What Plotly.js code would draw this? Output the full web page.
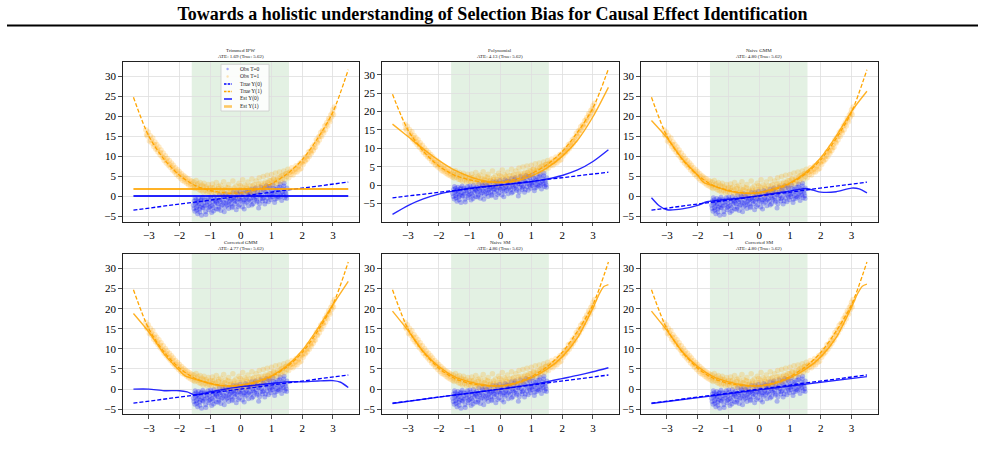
<!DOCTYPE html>
<html><head><meta charset="utf-8">
<script src="https://cdn.plot.ly/plotly-3.0.1.min.js"></script>
<style>html,body{margin:0;padding:0;background:#fff}#chart{width:985px;height:449px}</style>
</head><body><div id="chart"></div>
<script>
// ---------------- DATA ----------------
const methods = ["Trimmed IPW", "Polynomial", "Naive GMM", "Corrected GMM", "Naive SM", "Corrected SM"];
const ateEst = ["1.69", "4.13", "4.80", "4.77", "4.86", "4.80"];
const ateTrue = "5.62";

// observed T=0 (blue)
const obs0X = [-1.55,-1.52,-1.50,-1.48,-1.46,-1.45,-1.43,-1.41,-1.40,-1.38,-1.36,-1.35,-1.32,-1.30,-1.28,-1.26,-1.24,-1.22,-1.20,-1.17,-1.15,-1.12,-1.10,-1.07,-1.05,-1.02,-1.00,-0.97,-0.95,-0.92,-0.90,-0.87,-0.85,-0.82,-0.80,-0.77,-0.75,-0.72,-0.70,-0.67,-0.65,-0.62,-0.60,-0.57,-0.55,-0.52,-0.50,-0.47,-0.45,-0.42,-0.40,-0.37,-0.35,-0.32,-0.30,-0.27,-0.25,-0.22,-0.20,-0.17,-0.15,-0.12,-0.10,-0.07,-0.05,-0.02,0.00,0.03,0.05,0.08,0.10,0.13,0.15,0.18,0.20,0.23,0.25,0.28,0.30,0.33,0.35,0.38,0.40,0.43,0.45,0.48,0.50,0.53,0.55,0.58,0.60,0.63,0.65,0.68,0.70,0.73,0.75,0.78,0.80,0.83,0.85,0.88,0.90,0.93,0.95,0.98,1.00,1.03,1.05,1.08,1.10,1.13,1.15,1.18,1.20,1.23,1.25,1.28,1.30,1.33,1.35,1.38,1.40,1.43,1.45,1.48,1.50,
  -1.53,-1.49,-1.44,-1.39,-1.34,-1.29,-1.25,-1.19,-1.14,-1.09,-1.04,-0.99,-0.94,-0.89,-0.84,-0.79,-0.74,-0.69,-0.64,-0.59,-0.54,-0.49,-0.44,-0.39,-0.34,-0.29,-0.24,-0.19,-0.14,-0.09,-0.04,0.01,0.06,0.11,0.16,0.21,0.26,0.31,0.36,0.41,0.46,0.51,0.56,0.61,0.66,0.71,0.76,0.81,0.86,0.91,0.96,1.01,1.06,1.11,1.16,1.21,1.26,1.31,1.36,1.41,1.46,1.49];
const obs0Y = [-2.3,-1.2,-3.8,-2.0,-0.9,-2.9,-1.6,-4.4,-2.4,-0.6,-1.9,-3.3,-2.7,-1.1,-4.8,-2.1,-0.3,-3.0,-1.7,-2.5,-3.9,-1.0,-2.2,-0.4,-3.4,-1.8,-2.6,-0.8,-4.1,-1.5,-2.9,-0.1,-2.0,-1.2,-3.2,-0.6,-1.9,-2.7,0.3,-1.4,-3.6,-0.9,-2.1,-0.2,-1.6,-2.8,0.6,-1.1,-2.3,-0.5,-3.1,-1.3,0.2,-1.9,-0.7,-2.6,0.9,-1.0,-2.0,-0.3,-3.4,-1.4,0.5,-0.8,-2.2,1.2,-1.1,-0.2,-2.7,0.7,-0.9,-1.8,1.4,-0.4,-1.5,0.3,-2.4,1.0,-0.6,-1.3,1.8,0.0,-1.9,0.8,-0.8,2.0,-0.2,-1.5,1.1,-3.0,0.4,-0.7,2.3,0.1,-1.2,1.5,-0.3,-2.0,0.9,2.6,-0.5,1.3,-1.4,0.2,2.0,-0.9,1.0,-0.1,2.8,0.6,-1.6,1.7,0.2,-0.6,2.2,1.0,-0.3,3.0,0.7,-1.1,1.9,0.3,2.5,-0.4,1.3,0.1,2.0,
  -3.1,-0.4,-3.5,-1.3,-4.0,-0.8,-2.9,-0.9,-4.6,-1.5,-2.9,-0.2,-2.4,-3.7,-0.9,-1.6,-3.3,-1.0,-2.4,0.1,-3.9,-1.7,-0.1,-2.1,-1.0,-2.9,-0.5,-1.3,0.9,-2.6,-0.6,0.4,-1.5,-3.2,-0.7,1.1,-1.0,0.6,-2.2,-0.4,1.5,-1.1,0.3,-1.9,1.0,-0.6,2.0,-1.2,0.5,2.4,-0.3,0.4,1.9,-0.8,1.2,-0.1,2.3,0.0,1.1,3.2,0.7,-0.6];

// observed T=1 (orange)
const obs1X = [-3.10,-3.05,-3.02,-2.98,-2.95,-2.90,-2.87,-2.84,-2.80,-2.77,-2.74,-2.70,-2.67,-2.63,-2.60,-2.56,-2.53,-2.50,-2.46,-2.43,-2.40,-2.36,-2.33,-2.30,-2.26,-2.23,-2.20,-2.16,-2.13,-2.10,-2.06,-2.03,-2.00,-1.96,-1.93,-1.90,-1.86,-1.83,-1.80,-1.76,-1.73,-1.70,-1.66,-1.63,-1.60,-1.56,-1.53,-1.50,-1.46,-1.43,-1.40,-1.36,-1.33,-1.30,-1.26,-1.23,-1.20,-1.16,-1.13,-1.10,-1.06,-1.03,-1.00,-0.96,-0.93,-0.90,-0.86,-0.83,-0.80,-0.76,-0.73,-0.70,-0.66,-0.63,-0.60,-0.56,-0.53,-0.50,-0.46,-0.43,-0.40,-0.36,-0.33,-0.30,-0.26,-0.23,-0.20,-0.16,-0.13,-0.10,-0.06,-0.03,0.00,0.03,0.06,0.10,0.13,0.16,0.20,0.23,0.26,0.30,0.33,0.36,0.40,0.43,0.46,0.50,0.53,0.56,0.60,0.63,0.66,0.70,0.73,0.76,0.80,0.83,0.86,0.90,0.93,0.96,1.00,1.03,1.06,1.10,1.13,1.16,1.20,1.23,1.26,1.30,1.33,1.36,1.40,1.43,1.46,1.50,1.53,1.56,1.60,1.63,1.66,1.70,1.73,1.76,1.80,1.83,1.86,1.90,1.93,1.96,2.00,2.03,2.06,2.10,2.13,2.16,2.20,2.23,2.26,2.30,2.33,2.36,2.40,2.43,2.46,2.50,2.53,2.56,2.60,2.63,2.66,2.70,2.73,2.76,2.80,2.83,2.86,2.90,2.93,2.96,3.00,3.02,3.05,
  -3.07,-2.92,-2.82,-2.72,-2.62,-2.52,-2.42,-2.32,-2.22,-2.12,-2.02,-1.92,-1.82,-1.72,-1.62,-1.52,-1.42,-1.32,-1.22,-1.12,-1.02,-0.92,-0.82,-0.72,-0.62,-0.52,-0.42,-0.32,-0.22,-0.12,-0.02,0.08,0.18,0.28,0.38,0.48,0.58,0.68,0.78,0.88,0.98,1.08,1.18,1.28,1.38,1.48,1.58,1.68,1.78,1.88,1.98,2.08,2.18,2.28,2.38,2.48,2.58,2.68,2.78,2.88,2.98];
const obs1Y = [16.6,15.0,16.0,13.8,15.1,13.3,14.5,12.4,13.5,11.7,12.9,11.0,12.3,10.3,11.5,9.7,10.8,8.9,10.1,8.3,9.4,7.7,8.9,7.2,8.3,6.5,7.7,6.0,7.1,5.4,6.6,4.9,6.1,4.4,5.6,3.9,5.1,3.6,4.7,3.2,4.4,2.8,4.0,2.5,3.7,2.2,3.5,1.9,3.9,2.1,3.1,1.6,3.4,1.4,2.7,1.0,3.2,1.4,2.3,0.8,2.9,1.1,2.1,0.9,3.0,1.3,2.2,0.6,3.4,1.1,1.9,0.4,2.7,0.9,1.7,3.6,0.5,2.3,1.2,0.2,2.9,1.0,1.8,0.3,3.8,1.4,0.6,2.5,1.1,0.1,3.2,1.6,0.5,2.2,4.1,1.0,2.8,0.4,1.9,3.5,0.8,2.5,1.3,4.3,0.9,2.9,1.7,3.8,1.2,2.4,4.6,1.6,3.2,2.1,4.9,1.8,3.5,2.6,5.2,2.3,3.9,3.0,5.4,2.7,4.2,3.4,5.8,3.1,4.6,3.8,6.0,3.6,5.1,4.4,6.3,4.1,5.6,4.9,6.7,4.6,6.0,5.4,7.1,5.3,6.5,6.0,7.6,6.0,7.2,6.6,8.3,6.9,8.6,7.9,9.6,8.7,9.9,9.2,11.0,9.9,11.3,10.7,12.3,11.4,12.9,12.2,14.1,13.3,14.8,14.0,15.9,14.9,16.4,15.8,17.5,16.6,18.4,17.5,19.4,18.6,20.3,19.8,21.6,20.4,22.3,
  15.4,14.0,12.9,11.8,10.9,9.6,8.8,7.9,7.1,6.2,5.5,4.9,4.2,3.6,3.1,2.8,2.7,2.2,2.4,1.9,1.7,2.0,1.5,2.4,1.3,1.6,2.1,1.2,2.0,1.5,2.6,1.6,2.3,1.7,2.6,2.0,3.0,2.6,3.1,3.4,3.9,4.3,4.0,4.8,5.2,5.6,5.9,6.3,6.8,7.5,8.2,8.9,10.0,11.0,12.0,13.5,15.0,16.3,17.8,19.0,20.8];

// true potential outcomes
const trueX  = [-3.5,-3.0,-2.5,-2.0,-1.5,-1.0,-0.5,0.0,0.5,1.0,1.5,2.0,2.5,3.0,3.5];
const trueY0 = [-3.5,-3.0,-2.5,-2.0,-1.5,-1.0,-0.5,0.0,0.5,1.0,1.5,2.0,2.5,3.0,3.5];
const trueY1 = [24.7,15.0,9.2,5.2,2.7,1.4,0.8,0.8,1.6,3.1,5.5,9.1,14.4,21.0,31.6];

// estimated curves per method
const ipwX = [-3.5, 3.5];
const ipwY0 = [0.05, 0.05];
const ipwY1 = [1.75, 1.75];

const polyX  = [-3.5,-3.0,-2.5,-2.0,-1.5,-1.0,-0.5,0.0,0.5,1.0,1.5,2.0,2.5,3.0,3.5];
const polyY0 = [-8.0,-5.6,-3.8,-2.5,-1.6,-0.9,-0.4,0.0,0.4,0.9,1.6,2.6,4.1,6.4,9.6];
const polyY1 = [16.6,13.2,9.8,6.7,4.1,2.3,1.1,0.7,1.1,2.4,4.6,7.8,12.2,18.6,26.6];

const ngmmX0 = [-3.5,-3.25,-3.0,-2.5,-2.0,-1.7,-1.5,-1.0,-0.5,0.0,0.5,1.0,1.5,1.75,2.0,2.5,3.0,3.25,3.5];
const ngmmY0 = [-0.4,-2.4,-3.4,-3.2,-2.3,-1.4,-1.2,-0.8,-0.4,0.1,0.7,1.25,1.9,1.5,1.0,1.1,2.0,1.8,0.8];
const ngmmX1 = [-3.5,-3.0,-2.5,-2.0,-1.8,-1.5,-1.0,-0.5,0.0,0.5,1.0,1.5,2.0,2.5,3.0,3.5];
const ngmmY1 = [18.9,14.6,9.3,5.2,3.4,2.6,1.3,0.7,0.9,1.9,3.3,5.8,9.6,15.0,21.2,26.2];

const cgmmX0 = [-3.5,-3.0,-2.5,-2.0,-1.75,-1.5,-1.0,-0.5,0.0,0.5,1.0,1.5,2.0,2.5,3.0,3.25,3.5];
const cgmmY0 = [0.0,0.0,-0.4,-0.4,-0.7,-1.4,-0.7,0.0,0.6,1.0,1.4,1.8,1.8,2.0,2.1,1.7,0.4];
const cgmmX1 = [-3.5,-3.0,-2.5,-2.0,-1.8,-1.5,-1.0,-0.5,0.0,0.5,1.0,1.5,2.0,2.5,3.0,3.5];
const cgmmY1 = [18.8,14.2,8.7,4.6,3.2,2.5,1.4,0.8,1.0,1.9,3.3,5.8,9.6,15.0,21.0,26.8];

const nsmX0 = [-3.5,-2.0,-1.0,0.0,1.0,1.5,2.0,2.5,3.0,3.5];
const nsmY0 = [-3.6,-2.0,-1.0,0.0,1.1,1.8,2.6,3.4,4.3,5.3];
const nsmX1 = [-3.5,-3.0,-2.5,-2.0,-1.5,-1.0,-0.5,0.0,0.5,1.0,1.5,2.0,2.5,3.0,3.2,3.35,3.5];
const nsmY1 = [19.4,14.6,9.3,5.6,3.1,1.8,1.0,0.8,1.4,2.8,4.9,8.0,12.8,20.2,23.6,25.5,26.0];

const csmX0 = [-3.5,0.0,3.5];
const csmY0 = [-3.6,-0.2,3.1];
const csmX1 = [-3.5,-3.0,-2.5,-2.0,-1.5,-1.0,-0.5,0.0,0.5,1.0,1.5,2.0,2.5,3.0,3.2,3.35,3.5];
const csmY1 = [19.4,14.6,9.3,5.6,3.1,1.8,1.0,0.8,1.4,2.8,4.9,8.0,12.8,20.4,23.8,25.6,26.1];

const estX0 = [ipwX, polyX, ngmmX0, cgmmX0, nsmX0, csmX0];
const estY0 = [ipwY0, polyY0, ngmmY0, cgmmY0, nsmY0, csmY0];
const estX1 = [ipwX, polyX, ngmmX1, cgmmX1, nsmX1, csmX1];
const estY1 = [ipwY1, polyY1, ngmmY1, cgmmY1, nsmY1, csmY1];

const xTicks = [-3,-2,-1,0,1,2,3];
const yTicks = [-5,0,5,10,15,20,25,30];
const overlapLo = -1.6, overlapHi = 1.57;

// ---------------- LAYOUT ----------------
const W = 985, H = 449;
const px = v => v / W, py = v => 1 - v / H;
const domX = [[122.7, 359], [381.7, 619.2], [640.7, 877.7]];
const domY = [[61.7, 221.7], [254, 414]];
const titleRows = [[50.2, 56.0], [242.7, 248.5]];
const FONT = "Liberation Serif, Times New Roman, serif";
const BLUE = "#0000ff", ORANGE = "#ffa500";

const traces = [];
const layout = {
  width: W, height: H,
  margin: {l: 0, r: 0, t: 0, b: 0},
  paper_bgcolor: "#fff", plot_bgcolor: "#fff",
  showlegend: false,
  font: {family: FONT, color: "#000"},
  title: {text: "<b>Towards a holistic understanding of Selection Bias for Causal Effect Identification</b>",
          font: {family: FONT, size: 18, color: "#000"},
          x: 0.5, xanchor: "center", xref: "paper", y: 1 - 14 / H, yanchor: "middle", yref: "container"},
  shapes: [], annotations: []
};

layout.shapes.push({type: "line", xref: "paper", yref: "paper", x0: px(7), x1: px(978), y0: py(25.5), y1: py(25.5),
  line: {color: "#000", width: 2}});

for (let i = 0; i < 6; i++) {
  const r = Math.floor(i / 3), c = i % 3;
  const s = i === 0 ? "" : String(i + 1);
  const yr = i === 1 ? [-10.0, 33.6] : (r === 0 ? [-6.4, 33.6] : [-6.2, 33.6]);
  const ax = {
    showline: true, mirror: true, linecolor: "#222", linewidth: 1,
    ticks: "outside", ticklen: 3.5, tickwidth: 0.8, tickcolor: "#222",
    showgrid: true, gridcolor: "#dedede", gridwidth: 0.8, zeroline: false,
    tickfont: {family: FONT, size: 11, color: "#000"}, fixedrange: true
  };
  layout["xaxis" + s] = Object.assign({}, ax, {
    domain: [px(domX[c][0]), px(domX[c][1])], anchor: "y" + s,
    range: [-3.85, 3.85], tickvals: xTicks, ticktext: xTicks.map(v => v < 0 ? "\u2212" + Math.abs(v) : String(v))
  });
  layout["yaxis" + s] = Object.assign({}, ax, {
    domain: [py(domY[r][1]), py(domY[r][0])], anchor: "x" + s,
    range: yr, tickvals: yTicks, ticktext: yTicks.map(v => v < 0 ? "\u2212" + Math.abs(v) : String(v))
  });
  layout.shapes.push({type: "rect", xref: "x" + s, yref: "y" + s + " domain", x0: overlapLo, x1: overlapHi, y0: 0, y1: 1,
    fillcolor: "rgba(0,128,0,0.11)", line: {width: 0}, layer: "below"});

  const xa = "x" + s, ya = "y" + s;
  traces.push({type: "scatter", mode: "markers", x: obs0X, y: obs0Y, xaxis: xa, yaxis: ya,
    marker: {color: BLUE, size: 5, opacity: 0.26, line: {width: 0}}, hoverinfo: "skip"});
  traces.push({type: "scatter", mode: "markers", x: obs1X, y: obs1Y, xaxis: xa, yaxis: ya,
    marker: {color: ORANGE, size: 5.5, opacity: 0.22, line: {width: 0}}, hoverinfo: "skip"});
  traces.push({type: "scatter", mode: "lines", x: trueX, y: trueY0, xaxis: xa, yaxis: ya,
    line: {color: BLUE, width: 1.3, dash: "4px,2px"}, hoverinfo: "skip"});
  traces.push({type: "scatter", mode: "lines", x: trueX, y: trueY1, xaxis: xa, yaxis: ya,
    line: {color: ORANGE, width: 1.3, dash: "4px,2px", shape: "spline", smoothing: 0.8}, hoverinfo: "skip"});
  traces.push({type: "scatter", mode: "lines", x: estX0[i], y: estY0[i], xaxis: xa, yaxis: ya,
    line: {color: BLUE, width: i === 0 ? 2 : 1.4, shape: "spline", smoothing: 0.7}, opacity: 0.85, hoverinfo: "skip"});
  traces.push({type: "scatter", mode: "lines", x: estX1[i], y: estY1[i], xaxis: xa, yaxis: ya,
    line: {color: ORANGE, width: i === 0 ? 2 : 1.4, shape: "spline", smoothing: 0.7}, opacity: 0.85, hoverinfo: "skip"});

  const cx = px((domX[c][0] + domX[c][1]) / 2);
  layout.annotations.push({xref: "paper", yref: "paper", x: cx, y: py(titleRows[r][0]), xanchor: "center", yanchor: "middle",
    text: methods[i], showarrow: false, font: {family: FONT, size: 5, color: "#222"}});
  layout.annotations.push({xref: "paper", yref: "paper", x: cx, y: py(titleRows[r][1]), xanchor: "center", yanchor: "middle",
    text: "ATE: " + ateEst[i] + " (True: " + ateTrue + ")", showarrow: false, font: {family: FONT, size: 5, color: "#222"}});
}

// ---------------- manual legend (first panel) ----------------
layout.shapes.push({type: "rect", xref: "paper", yref: "paper", x0: px(221), x1: px(269), y0: py(111), y1: py(64.3),
  fillcolor: "rgba(255,255,255,0.85)", line: {color: "#cccccc", width: 0.8}, layer: "above"});
const legItems = [
  {t: "Obs T=0", k: "dot", c: BLUE, o: 0.35},
  {t: "Obs T=1", k: "dot", c: ORANGE, o: 0.3},
  {t: "True Y(0)", k: "dash", c: BLUE, o: 1, w: 1.3},
  {t: "True Y(1)", k: "dash", c: ORANGE, o: 1, w: 1.3},
  {t: "Est Y(0)", k: "line", c: BLUE, o: 0.85, w: 1.6},
  {t: "Est Y(1)", k: "line", c: ORANGE, o: 0.6, w: 2.6}
];
legItems.forEach((it, j) => {
  const yy = 69 + j * 7.5;
  if (it.k === "dot") {
    layout.shapes.push({type: "circle", xref: "paper", yref: "paper", x0: px(226.4), x1: px(228.8), y0: py(yy + 1.2), y1: py(yy - 1.2),
      fillcolor: it.c, opacity: it.o, line: {width: 0}, layer: "above"});
  } else {
    layout.shapes.push({type: "line", xref: "paper", yref: "paper", x0: px(224), x1: px(232), y0: py(yy), y1: py(yy),
      line: {color: it.c, width: it.w, dash: it.k === "dash" ? "2.5px,1.2px" : "solid"}, opacity: it.o, layer: "above"});
  }
  layout.annotations.push({xref: "paper", yref: "paper", x: px(237.5), y: py(yy), xanchor: "left", yanchor: "middle",
    text: it.t, showarrow: false, font: {family: FONT, size: 5.5, color: "#222"}});
});

Plotly.newPlot("chart", traces, layout, {displayModeBar: false, staticPlot: true});
</script></body></html>
